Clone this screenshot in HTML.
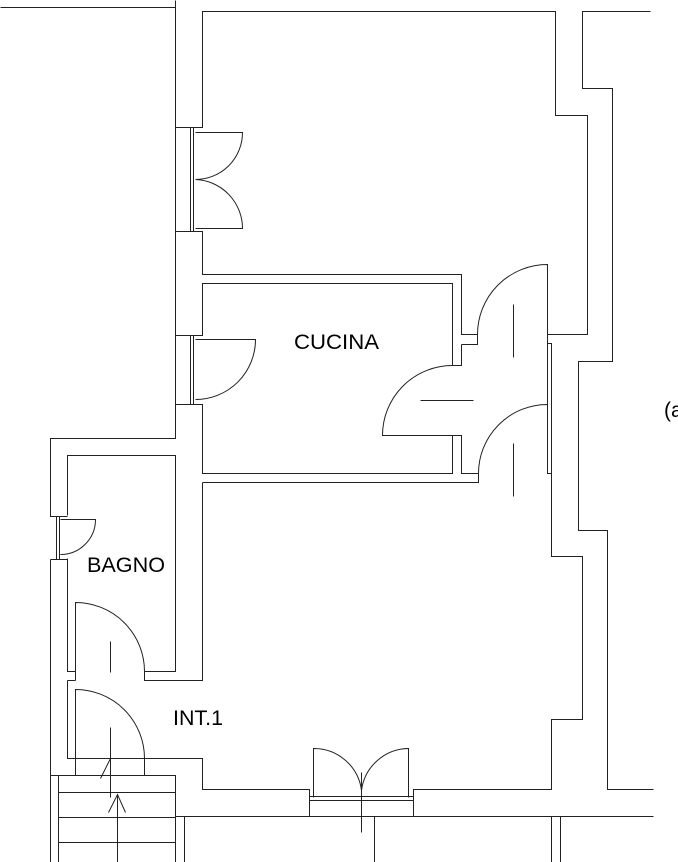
<!DOCTYPE html>
<html><head><meta charset="utf-8"><style>
html,body{margin:0;padding:0;background:#fff;width:678px;height:862px;overflow:hidden}
svg{display:block}
text{font-family:"Liberation Sans",Arial,sans-serif;fill:#000}
</style></head><body>
<svg width="678" height="862" viewBox="0 0 678 862" xmlns="http://www.w3.org/2000/svg">
<g transform="translate(0.5,0.5)" fill="none" stroke="#222" stroke-width="1">
<path d="M0 7 H175 M175 0 V438 H50 V516 H67 M50 559 H67 M50 559 V862"/>
<path d="M56 516 V559 M59 516 V559"/>
<path d="M60 519 H95 A35 35 0 0 1 60 554"/>
<path d="M67 515 V455 H175 V671 H144"/>
<path d="M67 558 V671 H75 M67 680 H75 M67 680 V758 H202 V789 H309 V816"/>
<path d="M75 680 V602 A69 69 0 0 1 144 671 V680 H202 V482"/>
<path d="M75 775 V689 A69 69 0 0 1 144 758 V775"/>
<path d="M110 641 V672 M110 727 V797 M100 778 L110 758"/>
<path d="M175 127 H202 V11 H555 V115 H587 V334 H547"/>
<path d="M190 127 V231 M193 127 V231"/>
<path d="M195 132 H242 A47 47 0 0 1 195 179 A49 49 0 0 1 242 228 H195"/>
<path d="M175 231 H202 V274 H461 V334 H477 M461 344 H477 V334 A70 70 0 0 1 547 264 V343 H551 V556 H582 V719 H551 V789 H413 V816"/>
<path d="M547 343 V404"/>
<path d="M513 304 V357"/>
<path d="M175 335 H202 V283 H452 V365 H461 V344"/>
<path d="M190 335 V404 M193 335 V404"/>
<path d="M195 339 H255 A60 60 0 0 1 195 399"/>
<path d="M175 404 H202 V473 H452 V435"/>
<path d="M452 365 A70 70 0 0 0 382 435 H461 V473 H478 V482 H202"/>
<path d="M420 400 H473"/>
<path d="M478 473 A69 69 0 0 1 547 404 V473 H551"/>
<path d="M513 443 V496"/>
<path d="M309 796 H413 M309 800 H413"/>
<path d="M313 797 V748 A48 48 0 0 1 361 790 M408 797 V748 A48 48 0 0 0 361 790 M361 772 V832"/>
<path d="M650 11 H582 V88 H612 V361 H578 V530 H607 V789 H653"/>
<path d="M175 816 H653"/>
<path d="M184 816 V862 M374 816 V862 M551 816 V862 M560 816 V862"/>
<path d="M50 775 H175 V862 M58 775 V862 M58 792 H175 M58 817 H175 M58 842 H175"/>
<path d="M117 794 V862 M108 812 L117 794 L125 812"/>
</g>
<text x="294" y="349" font-size="21" textLength="85" lengthAdjust="spacingAndGlyphs">CUCINA</text>
<text x="87" y="572" font-size="21" textLength="78" lengthAdjust="spacingAndGlyphs">BAGNO</text>
<text x="173" y="725" font-size="21" textLength="50" lengthAdjust="spacingAndGlyphs">INT.1</text>
<text x="664" y="417" font-size="21">(a</text>
</svg>
</body></html>
